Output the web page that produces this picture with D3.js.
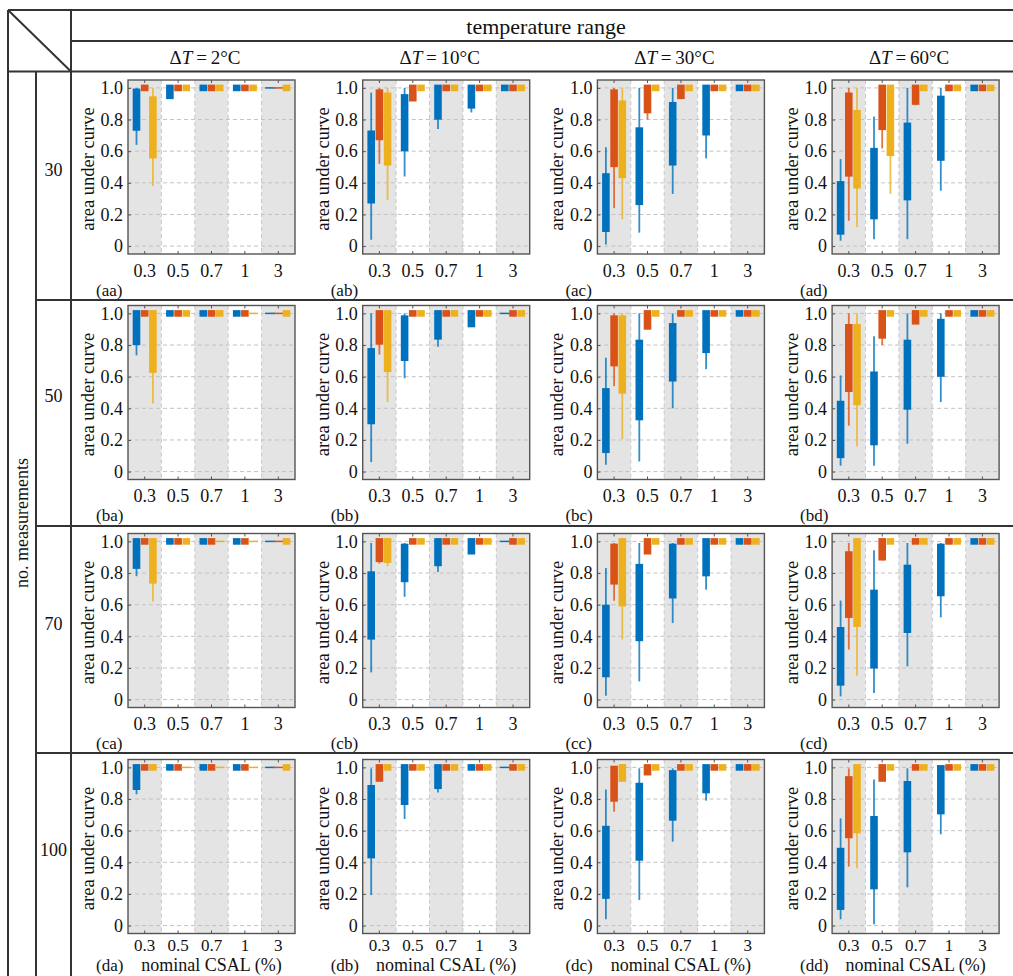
<!DOCTYPE html>
<html>
<head>
<meta charset="utf-8">
<script src="https://cdn.jsdelivr.net/npm/d3@7"></script>
<style>
  html, body { margin: 0; padding: 0; background: #fff; }
  #chart, #chart text { font-family: "Liberation Serif", "Times New Roman", serif; }
  #chart text { fill: #111; }
</style>
</head>
<body>
<svg id="chart" width="1013" height="976"></svg>
<script>
// ---- categories ----
const csalLevels = ["0.3", "0.5", "0.7", "1", "3"];          // nominal CSAL (%)
const deltaTs = ["2", "10", "30", "60"];                      // temperature range columns (°C)
const measurementCounts = ["30", "50", "70", "100"];          // rows
const seriesNames = ["blue", "red", "yellow"];
const yTicks = [0, 0.2, 0.4, 0.6, 0.8, 1.0];

// Box statistics per panel: [whiskerLow, q1, q3, whiskerHigh] for each CSAL level.
// S = all values at 1; null = degenerate entry shown as a thin dash at 1.
const S = [1, 1, 1, 1];

const statsBlue = [
  [ // 30 measurements
    [[0.64, 0.75, 0.975, 1], [0.95, 0.95, 1, 1], S, S, null],
    [[0.04, 0.29, 0.71, 0.97], [0.44, 0.62, 0.94, 1], [0.74, 0.82, 1, 1], [0.845, 0.89, 1, 1], S],
    [[0.01, 0.11, 0.44, 0.625], [0.085, 0.28, 0.73, 1], [0.33, 0.53, 0.89, 1], [0.555, 0.72, 1, 1], S],
    [[0.034, 0.093, 0.39, 0.55], [0.044, 0.19, 0.6, 0.82], [0.044, 0.31, 0.76, 1], [0.35, 0.56, 0.93, 1], S]
  ],
  [ // 50 measurements
    [[0.735, 0.82, 1, 1], S, S, S, null],
    [[0.06, 0.32, 0.76, 1], [0.59, 0.72, 0.967, 1], [0.79, 0.855, 1, 1], [0.93, 0.933, 1, 1], null],
    [[0.043, 0.138, 0.507, 0.72], [0.064, 0.345, 0.813, 1], [0.40, 0.59, 0.918, 1], [0.648, 0.77, 1, 1], S],
    [[0.037, 0.106, 0.427, 0.608], [0.037, 0.187, 0.612, 0.855], [0.176, 0.412, 0.813, 1], [0.44, 0.62, 0.945, 1], S]
  ],
  [ // 70 measurements
    [[0.78, 0.847, 1, 1], S, S, S, null],
    [[0.172, 0.40, 0.79, 0.99], [0.65, 0.763, 0.965, 0.99], [0.807, 0.864, 1, 1], [0.938, 0.938, 1, 1], null],
    [[0.025, 0.162, 0.579, 0.832], [0.115, 0.39, 0.837, 0.99], [0.484, 0.66, 0.965, 0.99], [0.695, 0.80, 1, 1], S],
    [[0.02, 0.109, 0.438, 0.626], [0.042, 0.217, 0.674, 0.944], [0.21, 0.442, 0.832, 0.99], [0.52, 0.674, 0.965, 0.99], S]
  ],
  [ // 100 measurements
    [[0.83, 0.878, 1, 1], S, S, S, null],
    [[0.193, 0.446, 0.868, 0.994], [0.674, 0.783, 1, 1], [0.842, 0.884, 1, 1], S, null],
    [[0.04, 0.19, 0.61, 0.861], [0.162, 0.431, 0.882, 0.994], [0.53, 0.684, 0.962, 0.994], [0.79, 0.857, 1, 1], S],
    [[0.04, 0.12, 0.471, 0.678], [0.008, 0.25, 0.672, 0.924], [0.242, 0.484, 0.893, 0.994], [0.577, 0.724, 0.994, 0.994], S]
  ]
];

const statsRed = [
  [
    [S, S, S, S, null],
    [[0.52, 0.69, 0.97, 1], [0.93, 0.935, 1, 1], S, S, S],
    [[0.24, 0.52, 0.97, 1], [0.80, 0.86, 1, 1], [0.945, 0.95, 1, 1], S, S],
    [[0.16, 0.46, 0.95, 1], [0.617, 0.754, 1, 1], [0.89, 0.914, 1, 1], S, S]
  ],
  [
    [S, S, S, S, null],
    [[0.74, 0.823, 1, 1], S, S, S, S],
    [[0.54, 0.686, 0.967, 1], [0.90, 0.918, 1, 1], S, S, S],
    [[0.29, 0.524, 0.912, 1], [0.80, 0.861, 1, 1], [0.95, 0.95, 1, 1], S, S]
  ],
  [
    [S, S, S, S, null],
    [[0.86, 0.89, 1, 1], S, S, S, S],
    [[0.625, 0.748, 0.965, 0.99], [0.93, 0.938, 1, 1], S, S, S],
    [[0.316, 0.537, 0.917, 0.99], [0.88, 0.90, 1, 1], S, S, S]
  ],
  [
    [S, S, S, S, null],
    [[0.93, 0.93, 1, 1], S, S, S, S],
    [[0.72, 0.804, 0.99, 1], [0.96, 0.97, 1, 1], S, S, S],
    [[0.373, 0.573, 0.924, 0.994], [0.92, 0.93, 1, 1], S, S, S]
  ]
];

const statsYellow = [
  [
    [[0.38, 0.575, 0.926, 1], S, S, S, S],
    [[0.29, 0.53, 0.95, 1], S, S, S, S],
    [[0.17, 0.45, 0.9, 1], S, S, S, S],
    [[0.12, 0.385, 0.84, 1], [0.33, 0.59, 1, 1], S, S, S]
  ],
  [
    [[0.43, 0.645, 1, 1], S, S, null, S],
    [[0.44, 0.65, 1, 1], S, S, S, S],
    [[0.205, 0.513, 0.967, 1], S, S, S, S],
    [[0.16, 0.44, 0.912, 1], S, S, S, S]
  ],
  [
    [[0.62, 0.754, 1, 1], S, null, null, S],
    [[0.843, 0.885, 1, 1], S, S, S, S],
    [[0.38, 0.61, 1, 1], S, S, S, S],
    [[0.15, 0.48, 1, 1], S, S, S, S]
  ],
  [
    [S, null, null, null, S],
    [S, S, S, S, S],
    [[0.92, 0.93, 1, 1], S, S, S, S],
    [[0.362, 0.604, 1, 1], S, S, S, S]
  ]
];

const seriesStats = { blue: statsBlue, red: statsRed, yellow: statsYellow };
const seriesColor = { blue: "#0072BD", red: "#D95319", yellow: "#EDB120" };

// ---- layout ----
const svg = d3.select("#chart");
const plotW = 167, plotH = 174;
const plotLeft = i => 128 + i * 234.7;
const plotTops = [80, 305.5, 533.5, 759.5];
const rowLines = [71.5, 300, 526, 753];
const lineColor = "#333";

const x = d3.scaleBand().domain(csalLevels).range([0, plotW]);
const xs = d3.scalePoint().domain(seriesNames).range([-8.2, 8.2]);
const y = d3.scaleLinear().domain([-0.05, 1.05]).range([plotH, 0]);

// ---- table frame ----
const tbl = svg.append("g").attr("stroke", lineColor).attr("stroke-width", 2).attr("fill", "none");
tbl.append("line").attr("x1", 8).attr("x2", 1013).attr("y1", 10).attr("y2", 10);
tbl.append("line").attr("x1", 8).attr("x2", 8).attr("y1", 10).attr("y2", 976);
tbl.append("line").attr("x1", 71).attr("x2", 1013).attr("y1", 41).attr("y2", 41);
tbl.append("line").attr("x1", 8).attr("x2", 1013).attr("y1", rowLines[0]).attr("y2", rowLines[0]);
tbl.append("line").attr("x1", 71).attr("x2", 71).attr("y1", 10).attr("y2", 976);
tbl.append("line").attr("x1", 36).attr("x2", 36).attr("y1", rowLines[0]).attr("y2", 976);
tbl.append("line").attr("x1", 8).attr("y1", 10).attr("x2", 71).attr("y2", rowLines[0]);
rowLines.slice(1).forEach(ry => {
  tbl.append("line").attr("x1", 36).attr("x2", 1013).attr("y1", ry).attr("y2", ry);
});

svg.append("text").attr("x", 546).attr("y", 26).attr("dy", "0.35em")
  .attr("text-anchor", "middle").attr("font-size", 22).text("temperature range");

deltaTs.forEach((dt, i) => {
  const t = svg.append("text").attr("x", plotLeft(i) + 77).attr("y", 57).attr("dy", "0.35em")
    .attr("text-anchor", "middle").attr("font-size", 19);
  t.append("tspan").text("Δ");
  t.append("tspan").attr("font-style", "italic").text("T");
  t.append("tspan").text("\u2009=\u2009" + dt + "°C");
});

svg.append("text").attr("transform", "translate(28,523) rotate(-90)")
  .attr("text-anchor", "middle").attr("font-size", 18).text("no. measurements");

measurementCounts.forEach((n, j) => {
  svg.append("text").attr("x", 53.5).attr("y", plotTops[j] + plotH / 2 + 3).attr("dy", "0.35em")
    .attr("text-anchor", "middle").attr("font-size", 18).text(n);
});

// ---- panels ----
const letters = "abcd";
measurementCounts.forEach((n, j) => {
  const lastRow = j === measurementCounts.length - 1;
  const tickFont = lastRow ? 17 : 18;
  deltaTs.forEach((dt, i) => {
    const g = svg.append("g").attr("transform", `translate(${plotLeft(i)},${plotTops[j]})`);

    // alternating CSAL bands
    g.selectAll("rect.band").data(csalLevels).join("rect").attr("class", "band")
      .attr("x", d => x(d)).attr("y", 0).attr("width", x.bandwidth()).attr("height", plotH)
      .attr("fill", (d, k) => k % 2 === 0 ? "#e4e4e4" : "#ffffff");

    // dashed grid
    g.selectAll("line.hgrid").data(yTicks).join("line").attr("class", "hgrid")
      .attr("x1", 0).attr("x2", plotW).attr("y1", d => y(d)).attr("y2", d => y(d))
      .attr("stroke", "#c2c2c2").attr("stroke-width", 1).attr("stroke-dasharray", "4,3");
    g.selectAll("line.vgrid").data(csalLevels.slice(1)).join("line").attr("class", "vgrid")
      .attr("x1", d => x(d)).attr("x2", d => x(d)).attr("y1", 0).attr("y2", plotH)
      .attr("stroke", "#c8c8c8").attr("stroke-width", 1).attr("stroke-dasharray", "4,3");

    // boxes
    seriesNames.forEach(s => {
      const stats = seriesStats[s][j][i];
      const col = seriesColor[s];
      stats.forEach((st, k) => {
        const cx = x(csalLevels[k]) + x.bandwidth() / 2 + xs(s);
        if (st === null) {
          g.append("line").attr("x1", cx - 5).attr("x2", cx + 5)
            .attr("y1", y(1)).attr("y2", y(1)).attr("stroke", col).attr("stroke-width", 1.5);
          return;
        }
        const [lo, q1, q3, hi] = st;
        g.append("line").attr("x1", cx).attr("x2", cx).attr("y1", y(hi)).attr("y2", y(lo))
          .attr("stroke", col).attr("stroke-width", 1.8).attr("stroke-opacity", 0.8);
        const cap = 3.3;
        g.append("rect").attr("x", cx - 3.8).attr("width", 7.6)
          .attr("y", y(q3) - cap).attr("height", y(q1) - y(q3) + 2 * cap)
          .attr("fill", col);
      });
    });

    // frame
    g.append("rect").attr("x", 0).attr("y", 0).attr("width", plotW).attr("height", plotH)
      .attr("fill", "none").attr("stroke", "#555").attr("stroke-width", 1.4);

    // axes
    const ya = g.append("g").call(d3.axisLeft(y).tickValues(yTicks).tickSize(-3).tickPadding(5)
      .tickFormat(d => d === 0 ? "0" : d3.format(".1f")(d)));
    const xa = g.append("g").attr("transform", `translate(0,${plotH})`)
      .call(d3.axisBottom(x).tickSize(-3).tickPadding(lastRow ? 5 : 10));
    const xt = g.append("g").call(d3.axisTop(x).tickSize(-3).tickFormat(""));
    [ya, xa, xt].forEach(a => {
      a.attr("font-family", null);
      a.select(".domain").remove();
      a.selectAll(".tick line").attr("stroke", "#555");
      a.selectAll("text").attr("fill", "#111");
    });
    ya.selectAll("text").attr("font-size", 18);
    xa.selectAll("text").attr("font-size", tickFont);

    // y label
    g.append("text").attr("transform", `translate(-34,${plotH / 2 + 2}) rotate(-90)`)
      .attr("text-anchor", "middle").attr("font-size", 18.5)
      .text("area under curve");

    // panel tag and x label
    const ly = plotH + (lastRow ? 31.5 : 36);
    g.append("text").attr("x", -32).attr("y", ly).attr("dy", "0.35em")
      .attr("font-size", 17).text(`(${letters[j]}${letters[i]})`);
    if (lastRow) {
      g.append("text").attr("x", plotW / 2).attr("y", ly).attr("dy", "0.35em")
        .attr("text-anchor", "middle").attr("font-size", 18)
        .text("nominal CSAL (%)");
    }
  });
});
</script>
</body>
</html>
